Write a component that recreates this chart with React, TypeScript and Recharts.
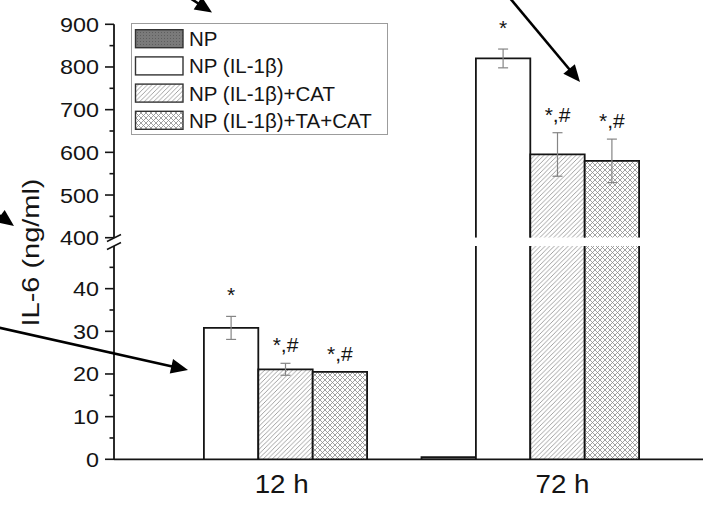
import React from 'react';
import { BarChart, Bar, XAxis, YAxis, ErrorBar, LabelList, Legend } from 'recharts';

// ---------- data ----------
const categories = ['12 h', '72 h'];
const npValues = [0, 0.5];
const il1bValues = [30.8, 820];
const il1bErrors = [2.7, 22];
const catValues = [21.1, 595];
const catErrors = [1.4, 51];
const tacatValues = [20.5, 580];
const tacatErrors = [0, 51];
const il1bMarks = ['*', '*'];
const catMarks = ['*,#', '*,#'];
const tacatMarks = ['*,#', '*,#'];
const upperMajorTicks = [400, 500, 600, 700, 800, 900];
const upperMinorTicks = [450, 550, 650, 750, 850];
const lowerMajorTicks = [0, 10, 20, 30, 40];
const lowerMinorTicks = [5, 15, 25, 35, 45];
const seriesNames = ['NP', 'NP (IL-1β)', 'NP (IL-1β)+CAT', 'NP (IL-1β)+TA+CAT'];

const data = categories.map((time, i) => ({
  time,
  np: npValues[i],
  il1b: il1bValues[i],
  il1bErr: il1bErrors[i],
  il1bMark: il1bMarks[i],
  cat: catValues[i],
  catErr: catErrors[i],
  catMark: catMarks[i],
  tacat: tacatValues[i],
  tacatErr: tacatErrors[i],
  tacatMark: tacatMarks[i],
}));

// ---------- layout / style ----------
const FONT = "'Liberation Sans', Arial, Helvetica, sans-serif";
const W = 711;
const H = 505;
const PLOT_LEFT = 114;
const PLOT_RIGHT = 703;
const UP_TOP = 24.3;
const UP_BOTTOM = 237.7;
const LO_TOP = 246;
const LO_BOTTOM = 459.3;
const UP_SVG_H = 251;
const XAXIS_H = 40;
const BAR_SIZE = 54.4;
const X_PADDING = { left: 8.5, right: 36.5 };
const X_LABEL_DX = [23.2, 32];
const UP_DOMAIN: [number, number] = [400, 900];
const LO_DOMAIN: [number, number] = [0, 50];
const UP_PX = (UP_BOTTOM - UP_TOP) / (UP_DOMAIN[1] - UP_DOMAIN[0]);
const LO_PX = (LO_BOTTOM - LO_TOP) / (LO_DOMAIN[1] - LO_DOMAIN[0]);
const INK = '#141414';

const seriesStyle: Record<string, { fill: string; name: string }> = {
  np: { fill: 'url(#npFill)', name: seriesNames[0] },
  il1b: { fill: '#ffffff', name: seriesNames[1] },
  cat: { fill: 'url(#hatchFill)', name: seriesNames[2] },
  tacat: { fill: 'url(#crossFill)', name: seriesNames[3] },
};

const makeShape = (dataKey: string, domain: [number, number]) => (props: any) => {
  const { x, y, width, height, fill } = props;
  if (x == null || y == null || width == null || height == null) return null;
  let v: any = props.payload ? props.payload[dataKey] : undefined;
  if (v == null) v = Array.isArray(props.value) ? props.value[1] : props.value;
  if (v == null || v < domain[0]) return null;
  if (Math.abs(height) < 0.5) return null;
  const top = Math.min(y, y + height);
  const bot = Math.max(y, y + height);
  return (
    <g>
      <rect x={x} y={top} width={width} height={bot - top} fill={fill} stroke="none" />
      <path d={`M${x},${bot}V${top}H${x + width}V${bot}`} fill="none" stroke={INK} strokeWidth={1.8} />
    </g>
  );
};

const makeMark = (values: number[], errors: number[], px: number, domain: [number, number]) => (props: any) => {
  const vb = props.viewBox && props.viewBox.width != null ? props.viewBox : props;
  const { x, y, width, height } = vb;
  const { value, index } = props;
  if (!value || x == null) return null;
  const v = values[index];
  if (v == null || v < domain[0] || v > domain[1]) return null;
  const top = Math.min(y, y + (height || 0));
  const err = errors[index] ?? 0;
  const errTop = top - err * px;
  const off = value === '*' ? 14 : 11;
  return (
    <text x={x + width / 2} y={errTop - off} textAnchor="middle" fontSize={21} fill={INK} fontFamily={FONT}>
      {value}
    </text>
  );
};

const makeYTick = (major: number[]) => (props: any) => {
  const { x, y, payload } = props;
  const v = payload.value;
  const isMajor = major.includes(v);
  const label = String(v);
  return (
    <g>
      <line x1={x} x2={x - (isMajor ? 9 : 4.5)} y1={y} y2={y} stroke={INK} strokeWidth={1.6} />
      {isMajor && (
        <text
          x={x - 15}
          y={y}
          textAnchor="end"
          dominantBaseline="central"
          fontSize={20.5}
          fill={INK}
          fontFamily={FONT}
          textLength={13 * label.length}
          lengthAdjust="spacingAndGlyphs"
        >
          {label}
        </text>
      )}
    </g>
  );
};

const XTick = (props: any) => {
  const { x, y, payload, index } = props;
  return (
    <text
      x={x + (X_LABEL_DX[index] ?? 27)}
      y={y + 34}
      textAnchor="middle"
      fontSize={25}
      fill={INK}
      fontFamily={FONT}
      textLength={54}
      lengthAdjust="spacingAndGlyphs"
    >
      {payload.value}
    </text>
  );
};

const LegendBox = (props: any) => {
  const payload = props.payload || [];
  return (
    <svg width={257} height={112} style={{ display: 'block' }}>
      <rect x={0.5} y={0.5} width={256} height={111} fill="#ffffff" stroke="#9c9c9c" strokeWidth={1} />
      {payload.map((p: any, i: number) => {
        const st = seriesStyle[p.dataKey as string];
        if (!st) return null;
        const top = 6.7 + 27.2 * i;
        return (
          <g key={String(p.dataKey)}>
            <rect x={4.5} y={top} width={47.5} height={18} fill={st.fill} stroke="#333" strokeWidth={1.4} />
            <text x={58} y={top + 16.5} fontSize={20.5} fill={INK} fontFamily={FONT}>
              {p.value}
            </text>
          </g>
        );
      })}
    </svg>
  );
};

const Arrow = ({ from, to }: { from: [number, number]; to: [number, number] }) => {
  const dx = to[0] - from[0];
  const dy = to[1] - from[1];
  const len = Math.hypot(dx, dy);
  const ux = dx / len;
  const uy = dy / len;
  const L = 17;
  const hw = 7.5;
  const bx = to[0] - ux * L;
  const by = to[1] - uy * L;
  return (
    <g>
      <line x1={from[0]} y1={from[1]} x2={bx + ux * 2} y2={by + uy * 2} stroke="#000" strokeWidth={2.6} />
      <polygon points={`${to[0]},${to[1]} ${bx - uy * hw},${by + ux * hw} ${bx + uy * hw},${by - ux * hw}`} fill="#000" />
    </g>
  );
};

const arrows: { from: [number, number]; to: [number, number] }[] = [
  { from: [170, -15], to: [212, 12.5] },
  { from: [509, -3], to: [580, 82] },
  { from: [-30, 194], to: [14, 226] },
  { from: [-2, 327.5], to: [188, 370] },
];

const seriesBars = (px: number, domain: [number, number]) => [
  <Bar key="np" dataKey="np" name={seriesNames[0]} fill={seriesStyle.np.fill} shape={makeShape('np', domain)} isAnimationActive={false} />,
  <Bar key="il1b" dataKey="il1b" name={seriesNames[1]} fill={seriesStyle.il1b.fill} shape={makeShape('il1b', domain)} isAnimationActive={false}>
    <ErrorBar dataKey="il1bErr" width={5} stroke="#858585" strokeWidth={1.2} direction="y" />
    <LabelList dataKey="il1bMark" content={makeMark(il1bValues, il1bErrors, px, domain)} />
  </Bar>,
  <Bar key="cat" dataKey="cat" name={seriesNames[2]} fill={seriesStyle.cat.fill} shape={makeShape('cat', domain)} isAnimationActive={false}>
    <ErrorBar dataKey="catErr" width={5} stroke="#858585" strokeWidth={1.2} direction="y" />
    <LabelList dataKey="catMark" content={makeMark(catValues, catErrors, px, domain)} />
  </Bar>,
  <Bar key="tacat" dataKey="tacat" name={seriesNames[3]} fill={seriesStyle.tacat.fill} shape={makeShape('tacat', domain)} isAnimationActive={false}>
    <ErrorBar dataKey="tacatErr" width={5} stroke="#858585" strokeWidth={1.2} direction="y" />
    <LabelList dataKey="tacatMark" content={makeMark(tacatValues, tacatErrors, px, domain)} />
  </Bar>,
];

export default function App() {
  return (
    <div style={{ position: 'absolute', left: 0, top: 0, width: W, height: H, background: '#fff', fontFamily: FONT }}>
      <svg width={0} height={0} style={{ position: 'absolute' }}>
        <defs>
          <pattern id="npFill" patternUnits="userSpaceOnUse" width={3} height={3}>
            <rect width={3} height={3} fill="#7a7a7a" />
            <rect width={1} height={1} fill="#5e5e5e" />
          </pattern>
          <pattern id="hatchFill" patternUnits="userSpaceOnUse" width={4.6} height={4.6}>
            <rect width={4.6} height={4.6} fill="#ffffff" />
            <path d="M0,4.6L4.6,0M-1,1L1,-1M3.6,5.6L5.6,3.6" stroke="#8a8a8a" strokeWidth={0.8} />
          </pattern>
          <pattern id="crossFill" patternUnits="userSpaceOnUse" width={5} height={5}>
            <rect width={5} height={5} fill="#ffffff" />
            <path d="M0,0L5,5M5,0L0,5" stroke="#8a8a8a" strokeWidth={0.8} />
          </pattern>
        </defs>
      </svg>

      {/* lower segment 0-50 */}
      <div style={{ position: 'absolute', left: 0, top: 0 }}>
        <BarChart
          width={W}
          height={H}
          data={data}
          barGap={0}
          barSize={BAR_SIZE}
          margin={{ top: LO_TOP, right: W - PLOT_RIGHT, bottom: H - LO_BOTTOM - XAXIS_H, left: 0 }}
        >
          <XAxis
            dataKey="time"
            padding={X_PADDING}
            height={XAXIS_H}
            axisLine={{ stroke: INK, strokeWidth: 1.8 }}
            tickLine={false}
            tickSize={0}
            tickMargin={0}
            tick={XTick}
            interval={0}
          />
          <YAxis
            domain={LO_DOMAIN}
            allowDataOverflow
            type="number"
            ticks={[...lowerMajorTicks, ...lowerMinorTicks].sort((a, b) => a - b)}
            interval={0}
            width={PLOT_LEFT}
            tickLine={false}
            tickSize={0}
            tickMargin={0}
            axisLine={{ stroke: INK, strokeWidth: 1.8 }}
            tick={makeYTick(lowerMajorTicks)}
          />
          {seriesBars(LO_PX, LO_DOMAIN)}
        </BarChart>
      </div>

      {/* upper segment 400-900 */}
      <div style={{ position: 'absolute', left: 0, top: 0 }}>
        <BarChart
          width={W}
          height={UP_SVG_H}
          data={data}
          barGap={0}
          barSize={BAR_SIZE}
          margin={{ top: UP_TOP, right: W - PLOT_RIGHT, bottom: UP_SVG_H - UP_BOTTOM, left: 0 }}
        >
          <XAxis dataKey="time" padding={X_PADDING} hide />
          <YAxis
            domain={UP_DOMAIN}
            allowDataOverflow
            type="number"
            ticks={[...upperMajorTicks, ...upperMinorTicks].sort((a, b) => a - b)}
            interval={0}
            width={PLOT_LEFT}
            tickLine={false}
            tickSize={0}
            tickMargin={0}
            axisLine={{ stroke: INK, strokeWidth: 1.8 }}
            tick={makeYTick(upperMajorTicks)}
          />
          <Legend
            content={LegendBox}
            layout="horizontal"
            verticalAlign="middle"
            align="center"
            wrapperStyle={{ position: 'absolute', left: 131, top: 23.3, width: 257, height: 112 }}
          />
          {seriesBars(UP_PX, UP_DOMAIN)}
        </BarChart>
      </div>

      {/* decorations: axis label, break marks, arrows */}
      <svg width={W} height={H} style={{ position: 'absolute', left: 0, top: 0, pointerEvents: 'none' }}>
        <text
          transform="translate(39,252.5) rotate(-90)"
          textAnchor="middle"
          fontSize={24}
          fill={INK}
          fontFamily={FONT}
          textLength={148}
          lengthAdjust="spacingAndGlyphs"
        >
          IL-6 (ng/ml)
        </text>
        <line x1={107} y1={241.5} x2={121} y2={234.5} stroke={INK} strokeWidth={1.5} />
        <line x1={107} y1={249.5} x2={121} y2={242.5} stroke={INK} strokeWidth={1.5} />
        {arrows.map((a, i) => (
          <Arrow key={i} from={a.from} to={a.to} />
        ))}
      </svg>
    </div>
  );
}
